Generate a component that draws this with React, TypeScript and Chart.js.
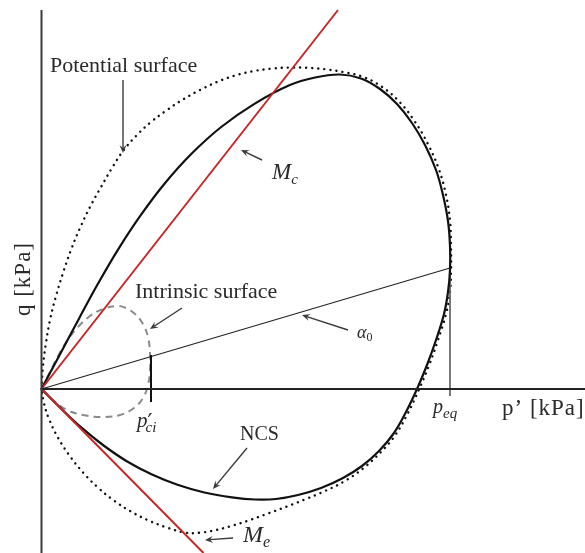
import React, { useEffect, useRef } from "react";
import { Chart, registerables } from "chart.js";
Chart.register(...registerables);

type P = { x: number; y: number };
const toPts = (a: number[][]): P[] => a.map(([x, y]) => ({ x, y }));

// NCS / yield surface (p', q)
const ncsCurve = [
  [0, 0], [18.8, 35.3], [37.6, 70.6], [56.7, 105.7], [77, 140.2], [99.1, 173.6],
  [123.2, 205.5], [150, 235.2], [179.7, 262], [212.5, 284.9], [247.8, 303.7],
  [273.5, 311.5], [298.5, 314.5], [319.5, 310.5], [338.5, 300], [355.5, 285],
  [370.5, 266], [383.5, 244], [394.5, 219], [401.5, 194], [406.5, 168],
  [408.5, 143], [408.5, 119], [406.5, 97], [402.5, 75], [394.5, 49],
  [385.5, 24], [375.5, 0], [364.5, -23], [352.5, -44], [337.5, -62],
  [320.5, -77], [301.5, -89], [279.5, -99], [256.5, -106], [234.5, -110],
  [213.5, -110.5], [190.5, -108.4], [162.9, -103.5], [136, -95.8], [110, -85.3],
  [85.3, -72.2], [62.1, -56.5], [40.3, -38.9], [19.8, -19.8], [0, 0],
];
// Potential surface
const potentialCurve = [
  [0, 0], [1.5, 23], [4.5, 46], [8.5, 69], [14.5, 93], [21.5, 116],
  [29.5, 139], [38.5, 161], [48.5, 182], [59.5, 202], [70.5, 221],
  [81.5, 238], [95.5, 254], [109.5, 267], [125.5, 279], [141.5, 289.5],
  [158.5, 299], [175.5, 307], [193.5, 313.5], [212.5, 318], [231.5, 320.5],
  [250.5, 321.5], [269.5, 321], [285.5, 319.5], [301.5, 317], [320.5, 312.5],
  [340, 302.5], [357.8, 287.3], [373.1, 267.8], [386.2, 245.4], [397.3, 220],
  [404.4, 194.6], [408.5, 168.3], [409.5, 143], [409.5, 119], [408.5, 97],
  [404.5, 75], [396.5, 49], [387.5, 23.5], [377.5, -0.5], [366.5, -24],
  [353.5, -46.5], [339.5, -63], [321.5, -79.5], [302.5, -92.5], [283.5, -102],
  [264.5, -110], [245.5, -117.5], [226.5, -124.5], [208.5, -131], [191.5, -136.5],
  [174.5, -141], [158.5, -143.7], [143.5, -143.6], [125.4, -138.5], [106.7, -131.3],
  [88.9, -122.2], [72.1, -111.3], [56.6, -98.7], [42.5, -84.6], [28.7, -67.5],
  [16.7, -49], [7.9, -31], [2.6, -14.8], [0, 0],
];
// Intrinsic surface
const intrinsicCurve = [
  [0, 0], [8.5, 17], [16.5, 33], [25.5, 48], [36.5, 62], [48.5, 73],
  [61.5, 80], [75.5, 83], [84.5, 81], [93.5, 75], [101.5, 65],
  [106.5, 52], [108.5, 36], [108.5, 19], [106.5, 4], [101.5, -9],
  [92.5, -19], [78.5, -26], [60.5, -28], [41.5, -26], [25.5, -21],
  [12.5, -12], [0, 0],
];
const mcLine = [[0, 0], [296.5, 379]];
const meLine = [[0, 0], [162, -164]];
const alphaLine = [[0, 0], [408.5, 121]];
const peqLine = [[408.5, 121], [408.5, -7]];
const pciLine = [[109.5, 34], [109.5, -13]];
const qAxis = [[0, 379], [0, -170]];
const pAxis = [[0, 0], [550, 0]];

const X_MIN = -41.5, X_MAX = 543.5, Y_MIN = -164, Y_MAX = 389;

// annotation arrows: [tailX, tailY, headX, headY]
const arrows = [
  [81.5, 309, 81.5, 236],
  [220.5, 229, 199.5, 239],
  [140.5, 81, 108.5, 60],
  [306.5, 59, 260.5, 74],
  [205.5, -59, 171.5, -100],
  [191.5, -149, 163.5, -151],
];

type Seg = { t: string; font: string; dx?: number; dy?: number };
const SERIF = '"Liberation Serif", "DejaVu Serif", serif';
const labels: { x: number; y: number; segs: Seg[]; rot?: boolean; ls?: string }[] = [
  { x: 8.5, y: 317, segs: [{ t: "Potential surface", font: `22px ${SERIF}` }] },
  { x: 93.5, y: 91, segs: [{ t: "Intrinsic surface", font: `22px ${SERIF}` }] },
  { x: 198.5, y: -51, segs: [{ t: "NCS", font: `20px ${SERIF}` }] },
  { x: 460.5, y: -26, ls: "1px", segs: [{ t: "p’ [kPa]", font: `23px ${SERIF}` }] },
  { x: -11.5, y: 110, rot: true, ls: "1px", segs: [{ t: "q [kPa]", font: `23px ${SERIF}` }] },
  { x: 230.5, y: 210, segs: [
    { t: "M", font: `italic 23px ${SERIF}` },
    { t: "c", font: `italic 15px ${SERIF}`, dy: 5, dx: 0 },
  ] },
  { x: 201.5, y: -153, segs: [
    { t: "M", font: `italic 24px ${SERIF}` },
    { t: "e", font: `italic 16px ${SERIF}`, dy: 5, dx: 0 },
  ] },
  { x: 315.5, y: 51, segs: [
    { t: "α", font: `italic 18px ${SERIF}` },
    { t: "0", font: `12px ${SERIF}`, dy: 3 },
  ] },
  { x: 95.5, y: -38, segs: [
    { t: "p", font: `italic 21px ${SERIF}` },
    { t: "′", font: `22px "DejaVu Sans"`, dy: 2, dx: 0 },
    { t: "ci", font: `italic 15px ${SERIF}`, dy: 5, dx: -7 },
  ] },
  { x: 391.5, y: -24, segs: [
    { t: "p", font: `italic 20px ${SERIF}` },
    { t: "eq", font: `italic 15px ${SERIF}`, dy: 5, dx: 0 },
  ] },
];

const annotPlugin = {
  id: "annot",
  afterDatasetsDraw(chart: any) {
    const ctx: any = chart.ctx;
    const sx = chart.scales.x, sy = chart.scales.y;
    const X = (v: number) => sx.getPixelForValue(v);
    const Y = (v: number) => sy.getPixelForValue(v);
    ctx.save();
    ctx.strokeStyle = "#3a3a3a";
    ctx.fillStyle = "#3a3a3a";
    ctx.lineWidth = 1.4;
    arrows.forEach(([tx, ty, hx, hy]) => {
      const x0 = X(tx), y0 = Y(ty), x1 = X(hx), y1 = Y(hy);
      const ang = Math.atan2(y1 - y0, x1 - x0);
      const L = 8, W = 3.5;
      ctx.beginPath();
      ctx.moveTo(x0, y0);
      ctx.lineTo(x1 - Math.cos(ang) * 5, y1 - Math.sin(ang) * 5);
      ctx.stroke();
      ctx.beginPath();
      ctx.moveTo(x1, y1);
      ctx.lineTo(x1 - L * Math.cos(ang) + W * Math.sin(ang), y1 - L * Math.sin(ang) - W * Math.cos(ang));
      ctx.lineTo(x1 - 5 * Math.cos(ang), y1 - 5 * Math.sin(ang));
      ctx.lineTo(x1 - L * Math.cos(ang) - W * Math.sin(ang), y1 - L * Math.sin(ang) + W * Math.cos(ang));
      ctx.closePath();
      ctx.fill();
    });
    ctx.fillStyle = "#2a2a2a";
    ctx.textBaseline = "alphabetic";
    ctx.textAlign = "left";
    labels.forEach((lb) => {
      ctx.save();
      ctx.letterSpacing = lb.ls || "0px";
      if (lb.rot) {
        ctx.font = lb.segs[0].font;
        const w = ctx.measureText(lb.segs[0].t).width;
        ctx.translate(X(lb.x), Y(lb.y));
        ctx.rotate(-Math.PI / 2);
        ctx.fillText(lb.segs[0].t, -w / 2, 0);
      } else {
        let cx = X(lb.x);
        const by = Y(lb.y);
        lb.segs.forEach((s) => {
          ctx.font = s.font;
          cx += s.dx || 0;
          ctx.fillText(s.t, cx, by + (s.dy || 0));
          cx += ctx.measureText(s.t).width;
        });
      }
      ctx.restore();
    });
    ctx.restore();
  },
};

export default function App() {
  const ref = useRef<HTMLCanvasElement>(null);
  useEffect(() => {
    if (!ref.current) return;
    const line = (data: number[][], color: string, width: number, extra: any = {}) => ({
      data: toPts(data),
      showLine: true,
      borderColor: color,
      borderWidth: width,
      pointRadius: 0,
      pointHoverRadius: 0,
      fill: false,
      tension: 0,
      ...extra,
    });
    const chart = new Chart(ref.current, {
      type: "scatter",
      data: {
        datasets: [
          line(qAxis, "#3a3a3a", 2),
          line(pAxis, "#222", 2),
          line(mcLine, "#c62828", 2),
          line(meLine, "#c62828", 2),
          line(pciLine, "#111", 2),
          line(ncsCurve, "#111", 2.2, { tension: 0.4 }),
          line(alphaLine, "#222", 1.1),
          line(peqLine, "#666", 1),
          line(intrinsicCurve, "#8c8c8c", 2, { tension: 0.4, borderDash: [7, 5] }),
          line(potentialCurve, "#111", 2.4, { tension: 0.4, borderDash: [0.1, 6], borderCapStyle: "round" }),
        ] as any,
      },
      options: {
        animation: false,
        responsive: true,
        maintainAspectRatio: false,
        layout: { padding: 0 },
        events: [],
        plugins: { legend: { display: false }, tooltip: { enabled: false }, title: { display: false } },
        scales: {
          x: { type: "linear", min: X_MIN, max: X_MAX, display: false },
          y: { type: "linear", min: Y_MIN, max: Y_MAX, display: false },
        },
      },
      plugins: [annotPlugin],
    });
    return () => chart.destroy();
  }, []);
  return (
    <div style={{ position: "fixed", left: 0, top: 0, width: 585, height: 553, background: "#fff" }}>
      <canvas ref={ref} />
    </div>
  );
}
